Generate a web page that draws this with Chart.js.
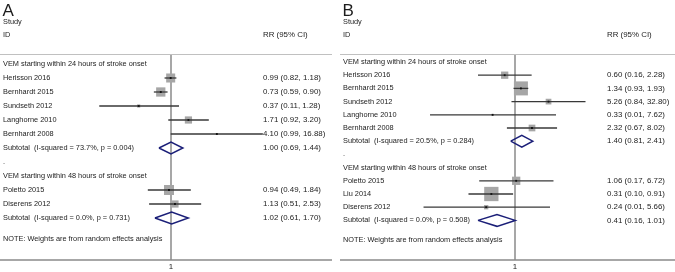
<!DOCTYPE html>
<html><head><meta charset="utf-8">
<script src="https://cdn.jsdelivr.net/npm/chart.js@4"></script>
<style>
html,body{margin:0;padding:0;background:#fff;overflow:hidden}
#wrap{position:relative;width:675px;height:272px;background:#fff}
canvas{position:absolute;top:0}
</style></head><body>
<div id="wrap"><canvas id="cA" width="337" height="272" style="left:0"></canvas><canvas id="cB" width="338" height="272" style="left:337px"></canvas></div>
<script>
// ---------- DATA ----------
const groupTitles = ["VEM starting within 24 hours of stroke onset", "VEM starting within 48 hours of stroke onset"];
const noteText = "NOTE: Weights are from random effects analysis";

// Panel A
const studiesA = ["Herisson 2016", "Bernhardt 2015", "Sundseth 2012", "Langhorne 2010", "Bernhardt 2008", "Poletto 2015", "Diserens 2012"];
const groupA   = [0, 0, 0, 0, 0, 1, 1];
const rrA      = [0.99, 0.73, 0.37, 1.71, 4.10, 0.94, 1.13];
const loA      = [0.82, 0.59, 0.11, 0.92, 0.99, 0.49, 0.51];
const hiA      = [1.18, 0.90, 1.28, 3.20, 16.88, 1.84, 2.53];
const weightA  = [18, 19, 2.2, 11.5, 0.8, 22, 11.5];
const subRrA   = [1.00, 1.02];
const subLoA   = [0.69, 0.61];
const subHiA   = [1.44, 1.70];
const subI2A   = [73.7, 0.0];
const subPA    = [0.004, 0.731];

// Panel B
const studiesB = ["Herisson 2016", "Bernhardt 2015", "Sundseth 2012", "Langhorne 2010", "Bernhardt 2008", "Poletto 2015", "Liu 2014", "Diserens 2012"];
const groupB   = [0, 0, 0, 0, 0, 1, 1, 1];
const rrB      = [0.60, 1.34, 5.26, 0.33, 2.32, 1.06, 0.31, 0.24];
const loB      = [0.16, 0.93, 0.84, 0.0149, 0.67, 0.17, 0.10, 0.0108];
const hiB      = [2.28, 1.93, 32.80, 7.62, 8.02, 6.72, 0.91, 5.66];
const weightB  = [8.5, 31.4, 5.2, 0.4, 7.2, 11, 32.7, 3.0];
const subRrB   = [1.40, 0.41];
const subLoB   = [0.81, 0.16];
const subHiB   = [2.41, 1.01];
const subI2B   = [20.5, 0.0];
const subPB    = [0.284, 0.508];

// ---------- LAYOUT ----------
const FAM = '"Liberation Sans", Arial, Helvetica, sans-serif';
const FS_L = 7.35;   // left labels
const FS_R = 7.9;    // numeric column
const TXT = '#1c1c1c';

function fmt(v) { return v.toFixed(2); }

function buildPanel(canvasId, d, L) {
  const rows = [];
  let r = 0;
  const studyRow = [], subRow = [];
  for (let g = 0; g < groupTitles.length; g++) {
    rows.push({ row: r++, left: groupTitles[g], right: "" });
    d.studies.forEach((s, i) => {
      if (d.group[i] !== g) return;
      studyRow[i] = r;
      rows.push({ row: r++, left: s, right: fmt(d.rr[i]) + " (" + fmt(d.lo[i]) + ", " + fmt(d.hi[i]) + ")" });
    });
    subRow[g] = r;
    rows.push({ row: r++, left: "Subtotal  (I-squared = " + d.subI2[g].toFixed(1) + "%, p = " + d.subP[g].toFixed(3) + ")",
                right: fmt(d.subRr[g]) + " (" + fmt(d.subLo[g]) + ", " + fmt(d.subHi[g]) + ")" });
    if (g < groupTitles.length - 1) rows.push({ row: r++, left: ".", right: "" });
  }
  rows.push({ row: r + 0.5, left: noteText, right: "" });

  const W = L.width, H = 272;
  const xmin = Math.exp(-L.x1 / L.pxLn), xmax = Math.exp((W - L.x1) / L.pxLn);
  const ymin = -L.y0 / L.step, ymax = (H - L.y0) / L.step;
  const topRow = (L.topLine - L.y0) / L.step, botRow = (L.botLine - L.y0) / L.step;

  const datasets = [];
  datasets.push({ type: 'scatter', data: [{ x: 1, y: topRow }, { x: 1, y: botRow }], showLine: true,
    borderColor: '#8a8a8a', borderWidth: 1.5, pointRadius: 0, order: 20 });
  datasets.push({ type: 'scatter', data: d.rr.map((v, i) => ({ x: v, y: studyRow[i] })),
    pointStyle: 'rect', pointRadius: d.weight.map(w => L.k * Math.sqrt(w) / Math.SQRT2),
    backgroundColor: '#a6a6a6', borderColor: '#a6a6a6', borderWidth: 0, order: 10 });
  d.rr.forEach((v, i) => {
    datasets.push({ type: 'scatter', data: [{ x: d.lo[i], y: studyRow[i] }, { x: d.hi[i], y: studyRow[i] }],
      showLine: true, borderColor: '#383838', borderWidth: 1.3, pointRadius: 0, order: 5 });
  });
  datasets.push({ type: 'scatter', data: d.rr.map((v, i) => ({ x: v, y: studyRow[i] })),
    pointStyle: 'rect', pointRadius: 1.3, backgroundColor: '#111', borderWidth: 0, order: 1 });
  d.subRr.forEach((v, g) => {
    const y = subRow[g], h = L.dh;
    datasets.push({ type: 'scatter', showLine: true, fill: false,
      data: [{ x: d.subLo[g], y: y }, { x: v, y: y - h }, { x: d.subHi[g], y: y }, { x: v, y: y + h }, { x: d.subLo[g], y: y }],
      borderColor: '#1b1f78', borderWidth: 1.5, pointRadius: 0, tension: 0, order: 2 });
  });

  const textPlugin = {
    id: 'forestText',
    afterDraw(chart) {
      const ctx = chart.ctx, ys = chart.scales.y, xs = chart.scales.x;
      ctx.save();
      ctx.strokeStyle = '#c0c0c0'; ctx.lineWidth = 1;
      ctx.beginPath(); ctx.moveTo(L.lineFrom, L.topLine + 0.5); ctx.lineTo(L.lineTo, L.topLine + 0.5); ctx.stroke();
      ctx.strokeStyle = '#8a8a8a'; ctx.lineWidth = 1.5;
      ctx.beginPath(); ctx.moveTo(L.lineFrom, L.botLine); ctx.lineTo(L.lineTo, L.botLine); ctx.stroke();
      ctx.fillStyle = TXT;
      ctx.font = '17px ' + FAM; ctx.textBaseline = 'alphabetic'; ctx.textAlign = 'left';
      ctx.fillText(L.letter, L.left - 0.5, 15.5);
      ctx.textBaseline = 'middle';
      ctx.font = FS_L + 'px ' + FAM;
      ctx.fillText("Study", L.left, 22);
      ctx.fillText("ID", L.left, 35);
      rows.forEach(o => ctx.fillText(o.left, L.left, ys.getPixelForValue(o.row)));
      ctx.font = FS_R + 'px ' + FAM;
      ctx.fillText("RR (95% CI)", L.right, 35);
      rows.forEach(o => { if (o.right) ctx.fillText(o.right, L.right, ys.getPixelForValue(o.row)); });
      ctx.textAlign = 'center';
      ctx.fillText("1", xs.getPixelForValue(1), 267);
      ctx.restore();
    }
  };

  new Chart(document.getElementById(canvasId), {
    type: 'scatter',
    data: { datasets },
    options: {
      responsive: false, animation: false, events: [],
      layout: { padding: 0, autoPadding: false },
      plugins: { legend: { display: false }, tooltip: { enabled: false } },
      scales: {
        x: { type: 'logarithmic', min: xmin, max: xmax, display: false },
        y: { type: 'linear', min: ymin, max: ymax, reverse: true, display: false }
      }
    },
    plugins: [textPlugin]
  });
}

buildPanel('cA',
  { studies: studiesA, group: groupA, rr: rrA, lo: loA, hi: hiA, weight: weightA,
    subRr: subRrA, subLo: subLoA, subHi: subHiA, subI2: subI2A, subP: subPA },
  { width: 337, x1: 171, pxLn: 32.5, y0: 64, step: 14, topLine: 54, botLine: 260, dh: 0.42,
    left: 3, right: 263, lineFrom: 0, lineTo: 332, letter: 'A', k: 2.13 });

buildPanel('cB',
  { studies: studiesB, group: groupB, rr: rrB, lo: loB, hi: hiB, weight: weightB,
    subRr: subRrB, subLo: subLoB, subHi: subHiB, subI2: subI2B, subP: subPB },
  { width: 338, x1: 178, pxLn: 20.2, y0: 62, step: 13.2, topLine: 54, botLine: 260, dh: 0.45,
    left: 6, right: 270, lineFrom: 3, lineTo: 338, letter: 'B', k: 2.5 });
</script>
</body></html>
